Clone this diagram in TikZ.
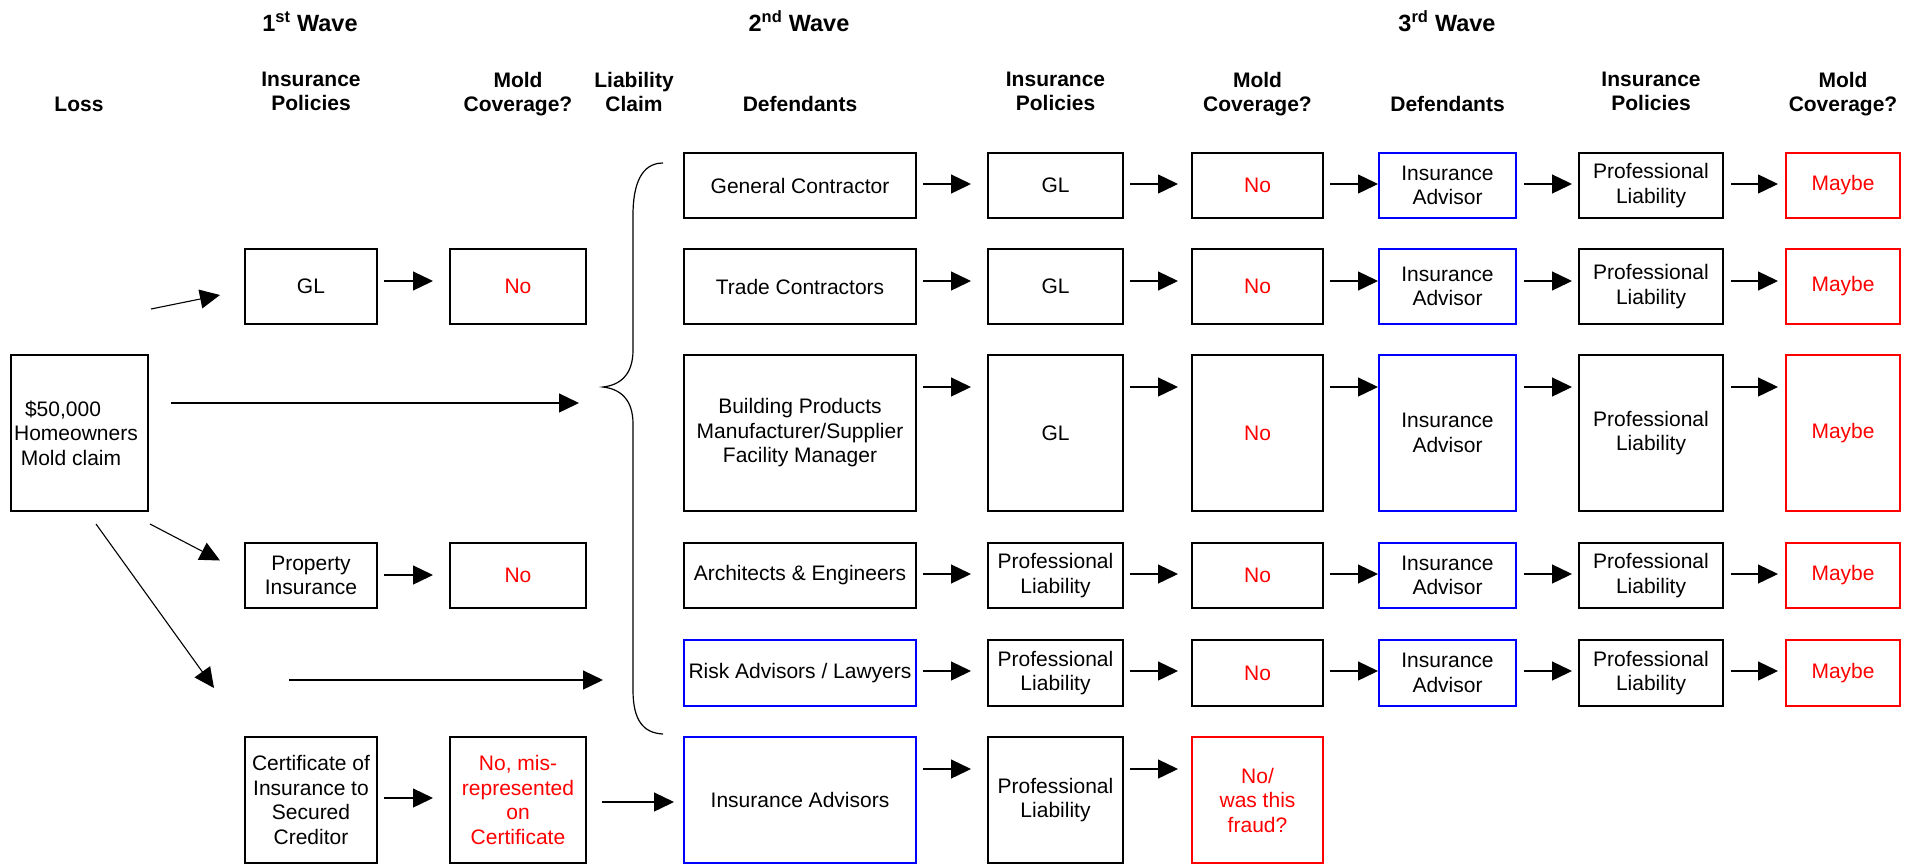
\documentclass[tikz,border=0pt]{standalone}
\usepackage{fontspec}
\setmainfont{Liberation Sans}
\usetikzlibrary{arrows.meta}
\definecolor{pred}{RGB}{255,0,0}
\definecolor{pblue}{RGB}{0,0,255}
\begin{document}
\begin{tikzpicture}[x=1pt,y=-1pt,
  box/.style={draw=black, line width=1.5pt, inner sep=0pt, outer sep=0pt, align=center, font=\fontsize{21}{24.5}\selectfont},
  bluebox/.style={box, draw=pblue},
  redbox/.style={box, draw=pred, text=pred},
  redtxt/.style={box, text=pred},
  hdr/.style={font=\fontsize{21}{23.5}\selectfont\bfseries, align=center, inner sep=0pt, outer sep=0pt},
  wave/.style={font=\fontsize{23.5}{26}\selectfont\bfseries, inner sep=0pt, outer sep=0pt},
  arr/.style={line width=1.3pt, -{Triangle[length=20pt,width=19pt]}},
  thinarr/.style={line width=1.1pt, -{Triangle[length=20pt,width=19pt]}}
]
\useasboundingbox (0,0) rectangle (1913,865);

% ---------- headers ----------
\node[wave, anchor=base] (w1) at (310,31.7) {1\textsuperscript{st} Wave};
\node[wave, anchor=base] (w2) at (799,31.7) {2\textsuperscript{nd} Wave};
\node[wave, anchor=base] (w3) at (1447,31.7) {3\textsuperscript{rd} Wave};

\node[hdr, anchor=base]  (hloss) at (79,111) {Loss};
\node[hdr, anchor=north] (hip1) at (311,72.5) {Insurance\\Policies};
\node[hdr, anchor=north] (hmc1) at (518,72.5) {Mold\\Coverage?};
\node[hdr, anchor=north] (hlc)  at (634,72.5) {Liability\\Claim};
\node[hdr, anchor=base]  (hdef2) at (800,111) {Defendants};
\node[hdr, anchor=north] (hip2) at (1055.5,72.5) {Insurance\\Policies};
\node[hdr, anchor=north] (hmc2) at (1257.5,72.5) {Mold\\Coverage?};
\node[hdr, anchor=base]  (hdef3) at (1447.5,111) {Defendants};
\node[hdr, anchor=north] (hip3) at (1651,72.5) {Insurance\\Policies};
\node[hdr, anchor=north] (hmc3) at (1843,72.5) {Mold\\Coverage?};

% ---------- loss ----------
\node[box, minimum width=137pt, minimum height=156pt] (loss) at (79.5,433)
  {\$50,000\kern33pt\null\\Homeowners\kern7pt\null\\Mold claim\kern17pt\null};

% ---------- 1st wave ----------
\node[box, minimum width=132pt, minimum height=75pt] (gl1) at (311,286.5) {GL};
\node[redtxt, minimum width=136pt, minimum height=75pt] (no1) at (518,286.5) {No};
\node[box, minimum width=132pt, minimum height=65pt] (prop) at (311,575.5) {Property\\Insurance};
\node[redtxt, minimum width=136pt, minimum height=65pt] (no2) at (518,575.5) {No};
\node[box, minimum width=132pt, minimum height=126pt] (cert) at (311,800) {Certificate of\\Insurance to\\Secured\\Creditor};
\node[redtxt, minimum width=136pt, minimum height=126pt] (nomis) at (518,800) {No, mis-\\represented\\on\\Certificate};

% ---------- 2nd wave ----------
\node[box, minimum width=232pt, minimum height=65pt] (d1) at (800,185.5) {General Contractor};
\node[box, minimum width=232pt, minimum height=75pt] (d2) at (800,286.5) {Trade Contractors};
\node[box, minimum width=232pt, minimum height=156pt] (d3) at (800,433) {Building Products\\Manufacturer/Supplier\\Facility Manager};
\node[box, minimum width=232pt, minimum height=65pt] (d4) at (800,575.5) {Architects \& Engineers};
\node[bluebox, minimum width=232pt, minimum height=66pt] (d5) at (800,673) {Risk Advisors / Lawyers};
\node[bluebox, minimum width=232pt, minimum height=126pt] (d6) at (800,800) {Insurance Advisors};

\node[box, minimum width=135pt, minimum height=65pt] (p1) at (1055.5,185.5) {GL};
\node[box, minimum width=135pt, minimum height=75pt] (p2) at (1055.5,286.5) {GL};
\node[box, minimum width=135pt, minimum height=156pt] (p3) at (1055.5,433) {GL};
\node[box, minimum width=135pt, minimum height=65pt] (p4) at (1055.5,575.5) {Professional\\Liability};
\node[box, minimum width=135pt, minimum height=66pt] (p5) at (1055.5,673) {Professional\\Liability};
\node[box, minimum width=135pt, minimum height=126pt] (p6) at (1055.5,800) {Professional\\Liability};

\node[redtxt, minimum width=131pt, minimum height=65pt] (m1) at (1257.5,185.5) {No};
\node[redtxt, minimum width=131pt, minimum height=75pt] (m2) at (1257.5,286.5) {No};
\node[redtxt, minimum width=131pt, minimum height=156pt] (m3) at (1257.5,433) {No};
\node[redtxt, minimum width=131pt, minimum height=65pt] (m4) at (1257.5,575.5) {No};
\node[redtxt, minimum width=131pt, minimum height=66pt] (m5) at (1257.5,673) {No};
\node[redbox, minimum width=131pt, minimum height=126pt] (m6) at (1257.5,800) {No/\\was this\\fraud?};

% ---------- 3rd wave ----------
\foreach \r/\cy/\h in {1/185.5/65, 2/286.5/75, 3/433/156, 4/575.5/65, 5/673/66}{
  \node[bluebox, minimum width=137pt, minimum height=\h pt] (a\r) at (1447.5,\cy) {Insurance\\Advisor};
  \node[box, minimum width=144pt, minimum height=\h pt] (q\r) at (1651,\cy) {Professional\\Liability};
  \node[redbox, minimum width=114pt, minimum height=\h pt] (y\r) at (1843,\cy) {Maybe};
}

% ---------- row arrows ----------
\foreach \r/\dy in {1/1.5, 2/5.5, 3/46, 4/1.5, 5/2}{
  \draw[arr] ([xshift=7pt,yshift=\dy pt]d\r.east) -- ([xshift=-17pt,yshift=\dy pt]p\r.west);
  \draw[arr] ([xshift=7pt,yshift=\dy pt]p\r.east) -- ([xshift=-14pt,yshift=\dy pt]m\r.west);
  \draw[arr] ([xshift=7pt,yshift=\dy pt]m\r.east) -- ([xshift=-1pt,yshift=\dy pt]a\r.west);
  \draw[arr] ([xshift=8pt,yshift=\dy pt]a\r.east) -- ([xshift=-7pt,yshift=\dy pt]q\r.west);
  \draw[arr] ([xshift=8pt,yshift=\dy pt]q\r.east) -- ([xshift=-8pt,yshift=\dy pt]y\r.west);
}
\draw[arr] ([xshift=7pt,yshift=31pt]d6.east) -- ([xshift=-17pt,yshift=31pt]p6.west);
\draw[arr] ([xshift=7pt,yshift=31pt]p6.east) -- ([xshift=-14pt,yshift=31pt]m6.west);

% 1st wave arrows
\draw[arr] ([xshift=7pt,yshift=5.5pt]gl1.east) -- ([xshift=-17pt,yshift=5.5pt]no1.west);
\draw[arr] ([xshift=7pt,yshift=0.5pt]prop.east) -- ([xshift=-17pt,yshift=0.5pt]no2.west);
\draw[arr] ([xshift=7pt,yshift=2pt]cert.east) -- ([xshift=-17pt,yshift=2pt]nomis.west);
\draw[arr] ([xshift=16pt,yshift=-2pt]nomis.east) -- ([xshift=-10pt,yshift=-2pt]d6.west);

% ---------- brace ----------
\coordinate (btop) at (663,163);
\coordinate (btip) at (603,387);
\coordinate (bbot) at (663,734);
\draw[line width=1.2pt] (btop) .. controls (641,163) and (633,185) .. (633,215)
  -- (633,350) .. controls (633,375) and (620,385) .. (btip)
  .. controls (620,389) and (633,399) .. (633,424)
  -- (633,690) .. controls (633,720) and (643,733) .. (bbot);

% ---------- loss arrows ----------
\coordinate (dEnd) at (214,688);
\coordinate (hStart) at (289,680);
\draw[thinarr] ([xshift=3pt,yshift=46pt]loss.north east) -- ([xshift=-25pt,yshift=-8.5pt]gl1.west);
\draw[arr] ([xshift=23pt,yshift=30pt]loss.east) -- ([xshift=-24pt,yshift=-16pt]btip);
\draw[thinarr] ([xshift=2pt,yshift=-13pt]loss.south east) -- ([xshift=-25pt,yshift=15pt]prop.west);
\draw[thinarr] ([xshift=16.5pt,yshift=-13pt]loss.south) -- (dEnd);
\draw[arr] (hStart) -- ([xshift=-81pt,yshift=-7pt]d5.west);
\end{tikzpicture}
\end{document}
